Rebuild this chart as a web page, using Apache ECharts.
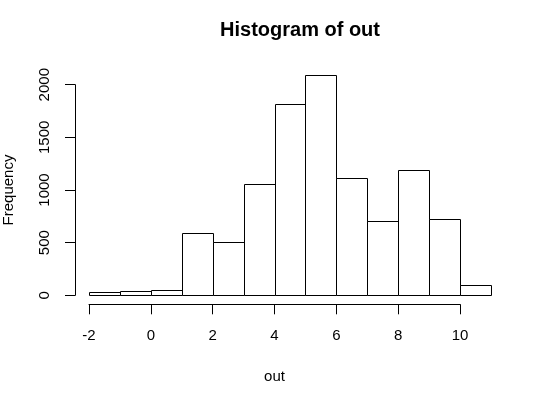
<!DOCTYPE html>
<html>
<head>
<meta charset="utf-8">
<script src="https://cdn.jsdelivr.net/npm/echarts@6/dist/echarts.min.js"></script>
<style>html,body{margin:0;padding:0;background:#fff;}#c{width:540px;height:393px;}</style>
</head>
<body>
<div id="c"></div>
<script>
// Histogram bins (left edge, right edge) and counts
var binStarts = [-2, -1, 0, 1, 2, 3, 4, 5, 6, 7, 8, 9, 10];
var binEnds   = [-1, 0, 1, 2, 3, 4, 5, 6, 7, 8, 9, 10, 11];
var counts    = [31, 44, 50, 595, 506, 1055, 1812, 2092, 1111, 703, 1193, 722, 98];
var xTicks = [-2, 0, 2, 4, 6, 8, 10];
var yTicks = [0, 500, 1000, 1500, 2000];

var FONT = '"Liberation Sans", Arial, Helvetica, sans-serif';
var chart = echarts.init(document.getElementById('c'), null, {renderer: 'canvas'});

var data = binStarts.map(function (s, i) { return [s, binEnds[i], counts[i]]; });

var option = {
  animation: false,
  backgroundColor: '#ffffff',
  title: {
    text: 'Histogram of out',
    left: 295, top: 15, textAlign: 'center',
    textStyle: {fontFamily: FONT, fontSize: 20, fontWeight: 'bold', color: '#000'}
  },
  grid: [
    {left: 89, width: 371, top: 84.7, height: 210.6, containLabel: false, outerBoundsMode: 'none'},
    {left: 89, width: 371, top: 84.7, height: 210.6, containLabel: false, outerBoundsMode: 'none'}
  ],
  xAxis: [
    {gridIndex: 0, type: 'value', min: -2, max: 10, show: false},
    {gridIndex: 1, type: 'value', min: -2, max: 10, interval: 2,
      offset: 9,
      axisLine: {show: true, onZero: false, lineStyle: {color: '#000', width: 1}},
      axisTick: {show: true, length: 10, lineStyle: {color: '#000', width: 1}},
      splitLine: {show: false},
      axisLabel: {margin: 24, fontFamily: FONT, fontSize: 15, color: '#000',
        customValues: xTicks, formatter: function (v) { return String(v); }},
      name: 'out', nameLocation: 'middle', nameGap: 65,
      nameTextStyle: {fontFamily: FONT, fontSize: 15, color: '#000'}
    }
  ],
  yAxis: [
    {gridIndex: 0, type: 'value', min: 0, max: 2000, show: false},
    {gridIndex: 1, type: 'value', min: 0, max: 2000, interval: 500,
      offset: 14,
      axisLine: {show: true, onZero: false, lineStyle: {color: '#000', width: 1}},
      axisTick: {show: true, length: 10, lineStyle: {color: '#000', width: 1}},
      splitLine: {show: false},
      axisLabel: {margin: 23, rotate: 90, fontFamily: FONT, fontSize: 15, color: '#000',
        customValues: yTicks, formatter: function (v) { return String(v); }},
      name: 'Frequency', nameLocation: 'middle', nameGap: 59,
      nameTextStyle: {fontFamily: FONT, fontSize: 15, color: '#000'}
    }
  ],
  series: [{
    type: 'custom',
    xAxisIndex: 0, yAxisIndex: 0,
    clip: false,
    data: data,
    encode: {x: [0, 1], y: 2},
    renderItem: function (params, api) {
      var p0 = api.coord([api.value(0), 0]);
      var p1 = api.coord([api.value(1), api.value(2)]);
      return {
        type: 'rect',
        shape: {x: Math.round(p0[0]) + 0.5, y: Math.round(p1[1]) + 0.5,
                width: Math.round(p1[0]) - Math.round(p0[0]),
                height: Math.round(p0[1]) - Math.round(p1[1])},
        style: {fill: '#fff', stroke: '#000', lineWidth: 1}
      };
    }
  }]
};
chart.setOption(option);
</script>
</body>
</html>
